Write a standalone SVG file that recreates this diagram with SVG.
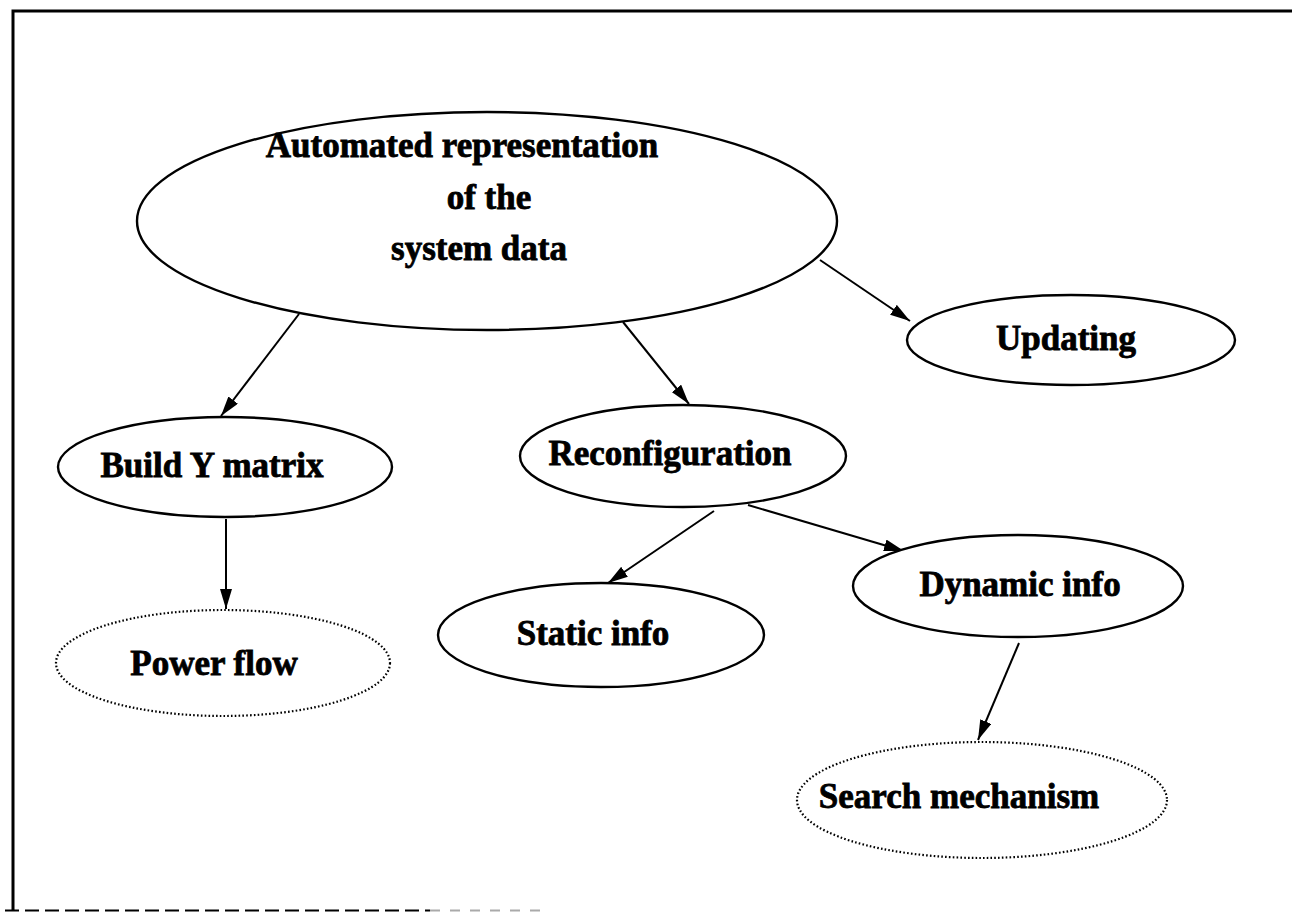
<svg xmlns="http://www.w3.org/2000/svg" width="1292" height="913" viewBox="0 0 1292 913">
  <style>
    .node { fill: #ffffff; stroke: #000000; stroke-width: 2.4; }
    .dotted { stroke-width: 2.2; stroke-dasharray: 1.6 2.2; }
    .label { font-family: "Liberation Serif", "Times New Roman", serif; font-weight: bold; font-size: 35px; fill: #000000; stroke: #000000; stroke-width: 0.8; text-anchor: middle; }
    .edge { fill: none; stroke: #000000; stroke-width: 2; marker-end: url(#arrow); }
    .frame { fill: none; stroke: #000000; stroke-width: 3; }
  </style>
  <defs>
    <marker id="arrow" viewBox="0 0 20 12" refX="20" refY="6" markerWidth="20" markerHeight="12" markerUnits="userSpaceOnUse" orient="auto">
      <path d="M0,0 L20,6 L0,12 Z" fill="#000000"/>
    </marker>
  </defs>
  <rect width="1292" height="913" fill="#ffffff"/>

  <!-- outer frame -->
  <g id="frame">
    <path class="frame" d="M13,910 L13,11 L1292,11"/>
    <path d="M5,910.5 L430,910.5" stroke="#000000" stroke-width="2" stroke-dasharray="14 6" fill="none"/>
    <path d="M430,910.5 L540,910.5" stroke="#aaaaaa" stroke-width="2" stroke-dasharray="10 10" fill="none"/>
  </g>

  <!-- connectors -->
  <g id="connectors">
    <line class="edge" x1="299" y1="314" x2="221" y2="416"/>
    <line class="edge" x1="623" y1="322" x2="689" y2="404"/>
    <line class="edge" x1="820" y1="260" x2="910" y2="321"/>
    <line class="edge" x1="226" y1="519" x2="226" y2="609"/>
    <line class="edge" x1="714" y1="511" x2="608" y2="583"/>
    <line class="edge" x1="748" y1="505" x2="904" y2="551"/>
    <line class="edge" x1="1019" y1="643" x2="978" y2="740"/>
  </g>

  <g id="node-main">
    <ellipse class="node" cx="487" cy="221" rx="350" ry="109"/>
    <text class="label" x="462" y="157" font-size="33">Automated representation</text>
    <text class="label" x="489" y="209" font-size="33">of the</text>
    <text class="label" x="479" y="260" font-size="33">system data</text>
  </g>

  <g id="node-updating">
    <ellipse class="node" cx="1071" cy="340" rx="164" ry="45"/>
    <text class="label" x="1066" y="350" font-size="31">Updating</text>
  </g>

  <g id="node-build-y">
    <ellipse class="node" cx="225" cy="467" rx="167" ry="50"/>
    <text class="label" x="212" y="477" font-size="36">Build Y matrix</text>
  </g>

  <g id="node-reconfiguration">
    <ellipse class="node" cx="683" cy="456" rx="163" ry="51"/>
    <text class="label" x="670" y="465" font-size="33">Reconfiguration</text>
  </g>

  <g id="node-dynamic">
    <ellipse class="node" cx="1018" cy="586" rx="165" ry="51"/>
    <text class="label" x="1020" y="596" font-size="33">Dynamic info</text>
  </g>

  <g id="node-static">
    <ellipse class="node" cx="601" cy="635" rx="163" ry="52"/>
    <text class="label" x="593" y="645" font-size="35">Static info</text>
  </g>

  <g id="node-power-flow">
    <ellipse class="node dotted" cx="223" cy="663" rx="167" ry="53"/>
    <text class="label" x="214" y="675" font-size="36">Power flow</text>
  </g>

  <g id="node-search">
    <ellipse class="node dotted" cx="982" cy="800" rx="185" ry="58"/>
    <text class="label" x="959" y="808" font-size="34">Search mechanism</text>
  </g>
</svg>
